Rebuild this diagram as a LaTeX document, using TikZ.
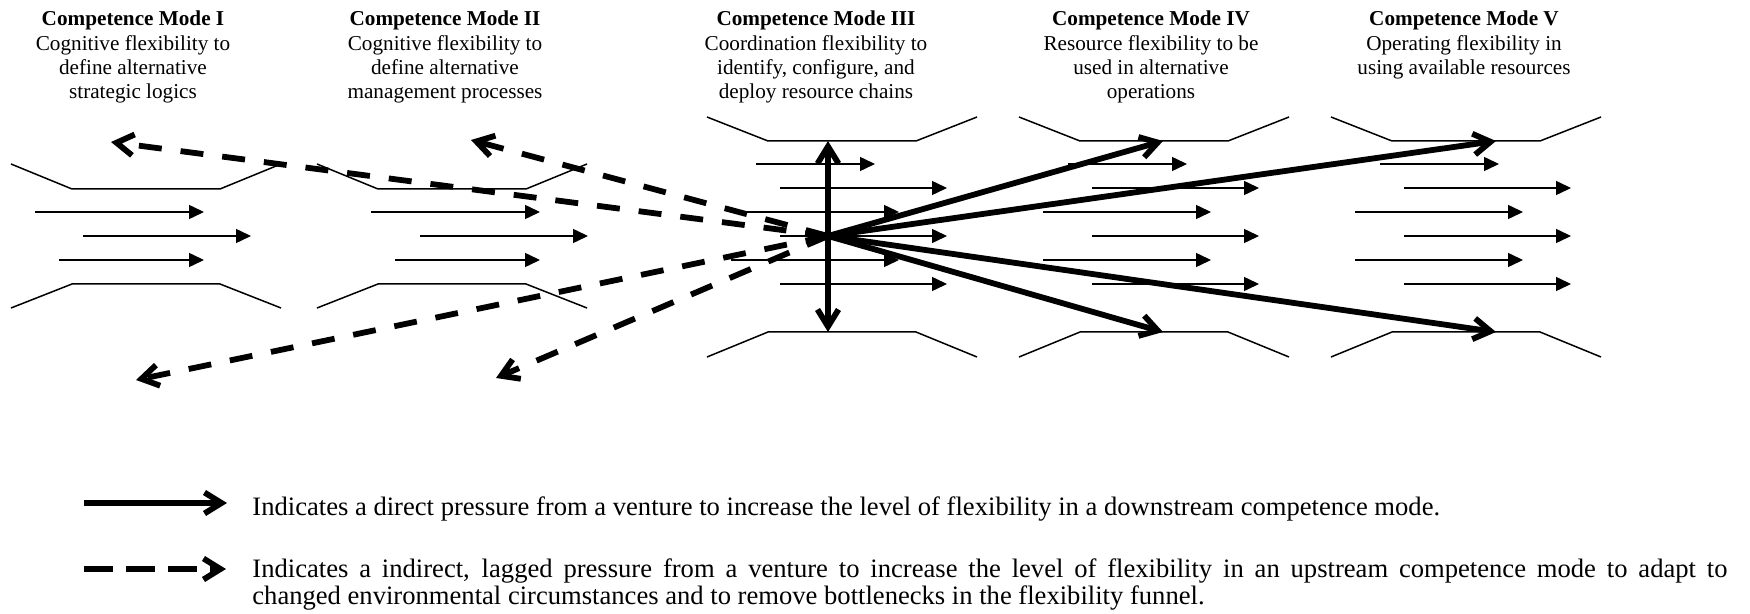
\documentclass[tikz,border=0pt]{standalone}
\usepackage{fontspec}
\setmainfont{Liberation Serif}
\usetikzlibrary{arrows.meta}
\tikzset{
    funnel/.style={line width=0.75pt},
    flow/.style={line width=0.75pt, -{Triangle[length=7.5pt, width=7pt]}},
    push/.style={line width=2.9pt, -{Straight Barb[length=8.5pt, width=10.5pt]}},
    pull/.style={push, dash pattern=on 11.5pt off 9.5pt},
    pullkey/.style={push, dash pattern=on 14.5pt off 6.5pt},
    mode/.style={align=center, inner sep=0pt, anchor=base, font=\fontsize{10.6}{12.05}\selectfont},
    note/.style={inner sep=0pt, anchor=base west, font=\fontsize{13.3}{13.5}\selectfont}
}

\begin{document}
\begin{tikzpicture}[x=0.5pt,y=-0.5pt]
\useasboundingbox (0,0) rectangle (1750,614);
% mode headings (placed at the baseline of their last line)
\node[mode] (modeI)   at ( 133,98.3) {\textbf{Competence Mode I}\\Cognitive flexibility to\\define alternative\\strategic logics};
\node[mode] (modeII)  at ( 445,98.3) {\textbf{Competence Mode II}\\Cognitive flexibility to\\define alternative\\management processes};
\node[mode] (modeIII) at ( 816,98.3) {\textbf{Competence Mode III}\\Coordination flexibility to\\identify, configure, and\\deploy resource chains};
\node[mode] (modeIV)  at (1151,98.3) {\textbf{Competence Mode IV}\\Resource flexibility to be\\used in alternative\\operations};
\node[mode] (modeV)   at (1464,74.2) {\textbf{Competence Mode V}\\Operating flexibility in\\using available resources};
% funnels I and II
\draw[funnel] (  11,164)--(  72,189)--( 220,189)--( 281,164);
\draw[funnel] (  11,308)--(  72,284)--( 220,284)--( 281,308);
\draw[funnel] ( 317,164)--( 378,189)--( 526,189)--( 587,164);
\draw[funnel] ( 317,308)--( 378,284)--( 526,284)--( 587,308);
% funnels III, IV and V
\draw[funnel] ( 707,117)--( 768,141)--( 916,141)--( 977,117);
\draw[funnel] ( 707,357)--( 768,332)--( 916,332)--( 977,357);
\draw[funnel] (1019,117)--(1080,141)--(1228,141)--(1289,117);
\draw[funnel] (1019,357)--(1080,332)--(1228,332)--(1289,357);
\draw[funnel] (1331,117)--(1392,141)--(1540,141)--(1601,117);
\draw[funnel] (1331,357)--(1392,332)--(1540,332)--(1601,357);
% flows inside the funnels
\draw[flow] (  35,212)--( 204,212);
\draw[flow] (  83,236)--( 251,236);
\draw[flow] (  59,260)--( 204,260);
\draw[flow] ( 371,212)--( 540,212);
\draw[flow] ( 420,236)--( 588,236);
\draw[flow] ( 395,260)--( 540,260);
\draw[flow] ( 756,164)--( 875,164);
\draw[flow] ( 780,188)--( 947,188);
\draw[flow] ( 745,212)--( 899,212);
\draw[flow] ( 780,236)--( 947,236);
\draw[flow] ( 731,260)--( 899,260);
\draw[flow] ( 780,284)--( 947,284);
\draw[flow] (1068,164)--(1187,164);
\draw[flow] (1092,188)--(1259,188);
\draw[flow] (1043,212)--(1211,212);
\draw[flow] (1092,236)--(1259,236);
\draw[flow] (1043,260)--(1211,260);
\draw[flow] (1092,284)--(1259,284);
\draw[flow] (1380,164)--(1499,164);
\draw[flow] (1404,188)--(1571,188);
\draw[flow] (1355,212)--(1523,212);
\draw[flow] (1404,236)--(1571,236);
\draw[flow] (1355,260)--(1523,260);
\draw[flow] (1404,284)--(1571,284);
% venture and the pressures it sends out
\coordinate (venture) at ( 828,236);
\coordinate (upI)     at ( 111,142);
\coordinate (downI)   at ( 136,380);
\coordinate (upII)    at ( 471,140);
\coordinate (downII)  at ( 496,378);
\coordinate (upIII)   at ( 828,141);
\coordinate (downIII) at ( 828,332);
\coordinate (upIV)    at (1163,141);
\coordinate (downIV)  at (1163,332);
\coordinate (upV)     at (1496,141);
\coordinate (downV)   at (1496,332);
\draw[pull] (venture)--(upI);
\draw[pull] (venture)--(downI);
\draw[pull] (venture)--(upII);
\draw[pull] (venture)--(downII);
\draw[push] (venture)--(upIII);
\draw[push] (venture)--(downIII);
\draw[push] (venture)--(upIV);
\draw[push] (venture)--(downIV);
\draw[push] (venture)--(upV);
\draw[push] (venture)--(downV);
% key
\coordinate (directA) at ( 84,503);
\coordinate (directB) at (227,503);
\coordinate (laggedA) at ( 84,569);
\coordinate (laggedB) at (226,569);
\draw[push]    (directA)--(directB);
\draw[pullkey] (laggedA)--(laggedB);
\node[note] (keydirect) at (252,515) {Indicates a direct pressure from a venture to increase the level of flexibility in a downstream competence mode.};
\node[note, text width=737.5pt, align=justify] (keylagged) at (252,577.5) {Indicates a indirect, lagged pressure from a venture to increase the level of flexibility in an upstream competence mode to adapt to\linebreak changed environmental circumstances and to remove bottlenecks in the flexibility funnel.};
\end{tikzpicture}
\end{document}
